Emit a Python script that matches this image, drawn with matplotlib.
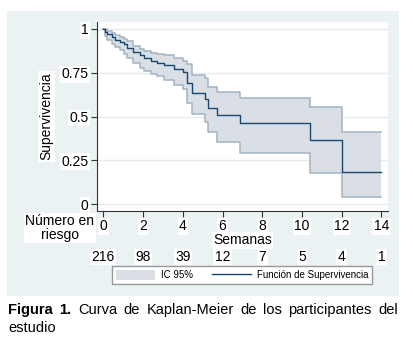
import matplotlib.pyplot as plt
from matplotlib.patches import Rectangle, Patch
from matplotlib.lines import Line2D

# Kaplan-Meier estimate
weeks = [0, 0.1, 0.2, 0.45, 0.6, 0.85, 1.05, 1.2, 1.5, 1.85, 2.05, 2.4, 2.7,
         3.05, 3.55, 4.03, 4.2, 4.45, 5.12, 5.29, 5.71, 6.88, 10.4, 12.03, 14]
surv = [1.0, 0.985, 0.97, 0.955, 0.935, 0.925, 0.915, 0.89, 0.87, 0.85, 0.835,
        0.82, 0.808, 0.794, 0.77, 0.757, 0.69, 0.633, 0.60, 0.547, 0.509,
        0.461, 0.366, 0.181, 0.181]
ci_upper = [1.0, 1.0, 0.99, 0.98, 0.965, 0.955, 0.945, 0.93, 0.905, 0.885,
            0.875, 0.865, 0.86, 0.85, 0.835, 0.82, 0.80, 0.74, 0.718, 0.667,
            0.642, 0.604, 0.556, 0.413, 0.413]
ci_lower = [1.0, 0.96, 0.94, 0.915, 0.895, 0.88, 0.86, 0.835, 0.805, 0.78,
            0.76, 0.745, 0.73, 0.71, 0.68, 0.655, 0.58, 0.515, 0.47, 0.413,
            0.356, 0.29, 0.175, 0.042, 0.042]

xticks = [0, 2, 4, 6, 8, 10, 12, 14]
yticks = [0, 0.25, 0.5, 0.75, 1]
ytick_labels = ['0', '0.25', '0.5', '0.75', '1']
at_risk = [216, 98, 39, 12, 7, 5, 4, 1]

caption_bold = 'Figura 1.'
caption_line1 = 'Curva de Kaplan-Meier de los participantes del'
caption_line2 = 'estudio'

BG = '#EAF2F3'
NAVY = '#1A476F'
CI_FILL = '#D9DFE5'
CI_EDGE = '#A3B3C2'
W, H = 414, 347

plt.rcParams['font.family'] = ['Liberation Sans', 'DejaVu Sans']
plt.rcParams['font.size'] = 10

fig = plt.figure(figsize=(W / 100, H / 100), dpi=100)
fig.patch.set_facecolor('white')

# outer Stata-like graph region
fig.patches.append(Rectangle((7 / W, 1 - 296 / H), 392 / W, 285 / H,
                             transform=fig.transFigure, facecolor=BG,
                             edgecolor='none', zorder=-5))

ax = fig.add_axes([97 / W, 1 - 211 / H, 291 / W, 189 / H])
ax.set_facecolor('white')
ax.set_xlim(-0.317, 14.33)
ax.set_ylim(-0.04, 1.04)

ax.fill_between(weeks, ci_lower, ci_upper, step='post', facecolor=CI_FILL,
                edgecolor='none', zorder=1)
ax.step(weeks, ci_upper, where='post', color=CI_EDGE, lw=1.1, zorder=2)
ax.step(weeks, ci_lower, where='post', color=CI_EDGE, lw=1.1, zorder=2)
ax.step(weeks, surv, where='post', color=NAVY, lw=1.0, zorder=3)

for y in yticks:
    ax.axhline(y, color='#E4ECEE', lw=1.0, zorder=0.5)

for side in ['top', 'right']:
    ax.spines[side].set_visible(False)
for side in ['left', 'bottom']:
    ax.spines[side].set_color('#333333')
    ax.spines[side].set_linewidth(0.8)

ax.set_xticks(xticks)
ax.set_xticklabels([str(x) for x in xticks])
ax.set_yticks(yticks)
ax.set_yticklabels(ytick_labels)
ax.tick_params(direction='out', length=4, width=0.8, colors='#333333',
               labelcolor='black', labelsize=10, pad=2)
for lab in ax.get_xticklabels() + ax.get_yticklabels():
    lab.set_bbox(dict(facecolor='white', edgecolor='none', pad=1))

ax.set_ylabel('Supervivencia', fontsize=10, labelpad=6,
              bbox=dict(facecolor='white', edgecolor='none', pad=1))
ax.set_xlabel('Semanas', fontsize=10, labelpad=0,
              bbox=dict(facecolor='white', edgecolor='none', pad=1))

# number at risk
fig.text(60 / W, 1 - 228 / H, 'Número en\nriesgo', ha='center', va='center',
         fontsize=10, linespacing=0.95,
         bbox=dict(facecolor='white', edgecolor='none', pad=1))
for x, n in zip(xticks, at_risk):
    ax.annotate(str(n), xy=(x, 0), xycoords=('data', 'figure fraction'),
                xytext=(0, 1 - 257 / H), textcoords=('offset points', 'figure fraction'),
                ha='center', va='center', fontsize=10, annotation_clip=False,
                bbox=dict(facecolor='white', edgecolor='none', pad=1))

handles = [Patch(facecolor=CI_FILL, edgecolor='none', label='IC 95%'),
           Line2D([], [], color=NAVY, lw=1.0, label='Función de Supervivencia')]
fig.legend(handles=handles, loc='center', ncol=2,
           bbox_to_anchor=(242 / W, 1 - 275 / H), fontsize=7,
           frameon=True, fancybox=False, edgecolor='#999999',
           handlelength=4.0, handleheight=1.3, handletextpad=0.6,
           columnspacing=2.0, borderpad=0.35, framealpha=1)

# caption, first line justified between the panel edges
left, right = 8, 398
words = [(caption_bold.split()[0], 'bold'), (caption_bold.split()[1], 'bold')]
words += [(w, 'normal') for w in caption_line1.split()]
texts = [fig.text(0, 1 - 310 / H, w, fontweight=fw, fontsize=10.5,
                  va='center', ha='left') for w, fw in words]
fig.canvas.draw()
r = fig.canvas.get_renderer()
widths = [t.get_window_extent(r).width for t in texts]
gap = (right - left - sum(widths)) / (len(texts) - 1)
x = left
for t, wd in zip(texts, widths):
    t.set_x(x / W)
    x += wd + gap
fig.text(left / W, 1 - 328 / H, caption_line2, fontsize=10.5, va='center',
         ha='left')

fig.savefig('out.png', dpi=100, facecolor='white')
